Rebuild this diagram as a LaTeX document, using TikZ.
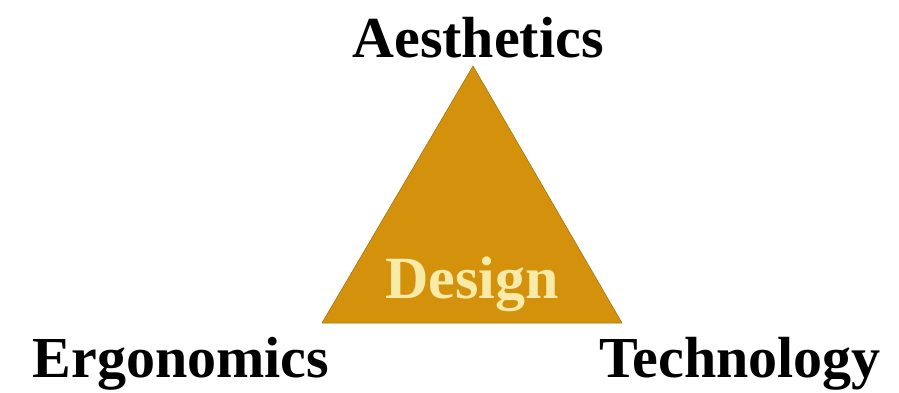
\documentclass[tikz,border=0pt]{standalone}
\usepackage{fontspec}
\setmainfont{Liberation Serif}
\definecolor{ochre}{HTML}{D4920C}
\definecolor{paleyellow}{HTML}{F8EBA8}
\begin{document}
\begin{tikzpicture}[x=1pt, y=-1pt,
  lbl/.style={font=\fontsize{58}{58}\selectfont\bfseries, text=black, inner sep=0pt},
  core/.style={font=\fontsize{60}{60}\selectfont\bfseries, text=paleyellow, inner sep=0pt},
  tri/.style={fill=ochre, draw=ochre!80!black, line width=0.6pt},
]
\useasboundingbox (0, 0) rectangle (899, 393);

% Triangle corners
\coordinate (top) at (473, 66);
\coordinate (bl) at (322, 323);
\coordinate (br) at (622, 323);
\draw[tri] (top) -- (br) -- (bl) -- cycle;

% Centre label
\node[core, anchor=base] (design) at (472, 298) {Design};

% Corner labels
\node[lbl, anchor=base] (aes) at (478, 58) {Aesthetics};
\node[lbl, anchor=base] (erg) at (181, 377) {Ergonomics};
\node[lbl, anchor=base] (tech) at (740, 377) {Technology};

\end{tikzpicture}
\end{document}
